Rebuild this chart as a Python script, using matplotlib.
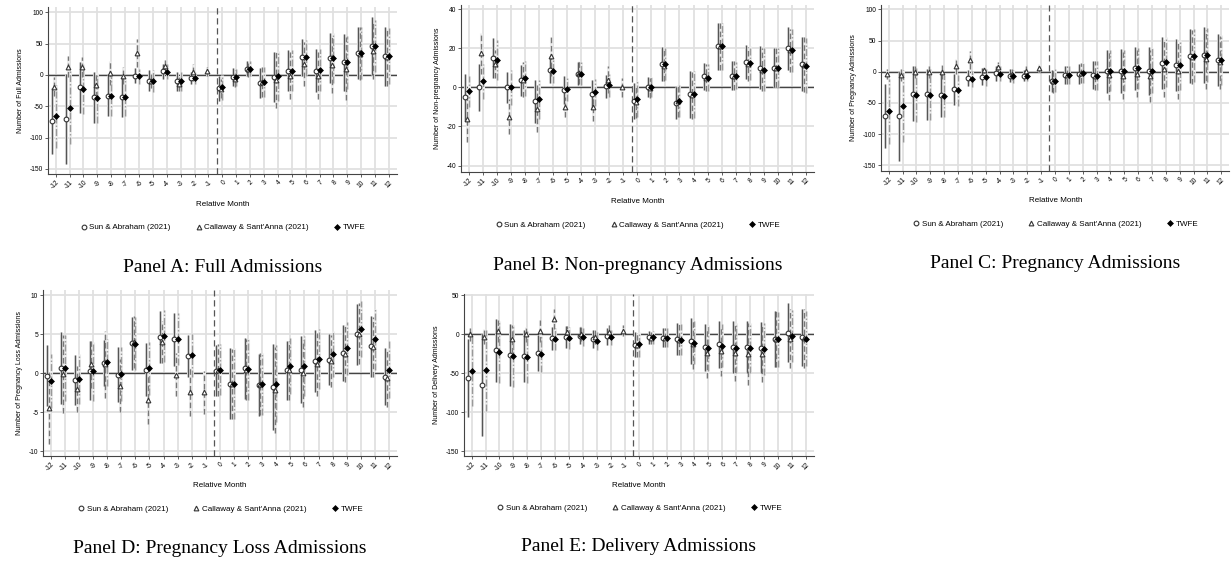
import matplotlib
matplotlib.use('Agg')
import matplotlib.pyplot as plt
from matplotlib.lines import Line2D
import numpy as np

nan = np.nan
plt.rcParams['font.family'] = ['Liberation Sans', 'DejaVu Sans']
plt.rcParams['axes.unicode_minus'] = False

months = list(range(-12, 13))
month_labels = [str(m) for m in months]
series_names = ['Sun & Abraham (2021)', "Callaway & Sant'Anna (2021)", 'TWFE']

# Panel A: full admissions (estimate, CI half-width)
sa_a = [-74, -71, -20, -36, -33, -35, -1, -9, 6, -10, -5, nan, -21, -3, 10, -13, -3, 7, 28, 7, 27, 20, 35, 46, 30]
sa_a_ci = [53, 72, 40, 40, 33, 32, 12, 17, 12, 15, 10, nan, 20, 14, 12, 24, 40, 33, 30, 34, 40, 45, 42, 46, 47]
cs_a = [-19, 13, 12, -16, 3, -1, 35, -9, 14, -14, 4, 6, -22, -6, 9, -12, -8, -1, 18, -1, 16, 10, 34, 39, 28]
cs_a_ci = [15, 17, 16, 20, 19, 13, 22, 12, 10, 12, 14, 7, 15, 14, 12, 24, 45, 37, 35, 38, 45, 50, 42, 46, 45]
tw_a = [-66, -52, -22, -37, -33, -35, -2, -10, 5, -10, -5, nan, -20, -4, 10, -12, -2, 7, 28, 8, 27, 20, 35, 46, 30]
tw_a_ci = [50, 58, 40, 40, 33, 30, 12, 18, 12, 15, 10, nan, 20, 14, 12, 24, 40, 33, 28, 33, 40, 43, 42, 42, 45]

# Panel B: non-pregnancy admissions
sa_b = [-5, 0, 15, 0, 3.6, -7, 9, -1.4, 7, -3.5, 0.5, nan, -7, 0.3, 12, -8, -3.6, 5.6, 21, 6, 13, 10, 10, 20, 12]
sa_b_ci = [12, 12, 10, 8, 8, 11, 7, 7, 6, 7.5, 6, nan, 9, 5, 8.5, 8, 12, 7, 12, 7.5, 8.5, 11, 10, 11, 14]
cs_b = [-16, 17.5, 12, -15, 4, -11, 16, -10, 7.5, -10, 4, 0, -7.5, -0.3, 11, -7, -4, 5, 21, 6, 12, 9, 10, 19, 11.5]
cs_b_ci = [12, 10.5, 7, 9, 9, 12, 10, 5, 6, 7, 7, 5, 8, 5, 8, 8, 12, 7, 12, 7.5, 8.5, 11, 10, 11, 14]
tw_b = [-2, 3, 14, 0, 4.6, -6, 8.4, -1, 7, -2.5, 1, nan, -6, 0.2, 12, -7, -3.6, 5, 21, 6, 12.5, 9, 10, 19, 11]
tw_b_ci = [8, 9, 10, 9, 9, 10, 6, 6, 6, 7, 6, nan, 9, 5, 8, 8, 12, 7, 12, 7, 8.5, 11, 10, 11, 14]

# Panel C: pregnancy admissions
sa_c = [-70.5, -71.5, -35, -36, -38, -28, -10, -8, -2, -6, -6, nan, -15, -5.5, -3, -5, 0.5, 1, 5.5, 1, 14, 11, 25, 27, 19]
sa_c_ci = [51, 71, 44, 41, 34, 25, 13, 14, 12, 11, 9, nan, 18, 14, 16, 23, 35, 35, 35, 38, 42, 42, 43, 45, 42]
cs_c = [-4, -5, 0, 0, 0, 9, 19, 3, 7, -4, 1, 6, -15.5, -5, -2, -6, -5, -6, -3, -7, 4, 1.5, 24, 20, 15]
cs_c_ci = [8, 10, 10, 10, 11, 12, 15, 5, 8, 9, 9, 7, 18, 14, 16, 23, 40, 38, 38, 42, 45, 45, 43, 47, 42]
tw_c = [-63, -55, -37, -37, -38.5, -29.5, -11, -9, -3, -7.5, -6, nan, -14, -5, -2.5, -6, 1.5, 2, 5.5, 2, 15, 11, 26, 27, 19]
tw_c_ci = [52, 58, 43, 41, 34, 25, 13, 14, 12, 11, 9, nan, 18, 14, 16, 23, 33, 33, 33, 36, 40, 40, 42, 43, 40]

# Panel D: pregnancy loss admissions
sa_d = [-0.3, 0.65, -0.85, 0.35, 1.35, -0.15, 3.9, 0.5, 4.65, 4.4, 2.25, nan, 0.35, -1.3, 0.65, -1.5, -1.75, 0.4, 0.45, 1.55, 1.75, 2.6, 5, 3.5, -0.4]
sa_d_ci = [3.9, 4.6, 3.2, 3.8, 3, 3.5, 3.4, 3.4, 3.3, 3.4, 2.7, nan, 3.3, 4.5, 3.9, 4, 5.5, 3.8, 4.3, 4, 3.3, 3.6, 3.9, 3.9, 3.7]
cs_d = [-4.5, -0.1, -2, 1.15, 1.2, -1.6, 4.05, -3.35, 4, -0.15, -2.35, -2.45, 0.45, -1.35, 0.5, -1.4, -2.1, 0.4, 0, 1.15, 1.6, 2.55, 5.1, 3.4, -0.55]
cs_d_ci = [4.5, 5, 3, 3, 4.3, 3.4, 3.3, 3.1, 2.7, 2.8, 3.1, 2.7, 3.3, 4.5, 3.9, 4, 5.5, 3.8, 4.3, 4, 3.3, 3.6, 3.9, 3.9, 3.7]
tw_d = [-1, 0.7, -0.75, 0.25, 1.4, -0.1, 3.8, 0.65, 4.8, 4.4, 2.3, nan, 0.5, -1.3, 0.55, -1.4, -1.3, 0.95, 0.95, 1.85, 2.5, 3.25, 5.65, 4.4, 0.5]
tw_d_ci = [3.5, 4.2, 3.2, 3.8, 3, 3.5, 3.4, 3.4, 3.3, 3.3, 2.7, nan, 3.3, 4.5, 3.9, 4, 5, 3.6, 3.8, 3.8, 3, 3.4, 3.6, 3.9, 3.7]

# Panel E: delivery admissions
sa_e = [-56.5, -65, -20.5, -26.5, -28, -24, -5, -3, -2, -6, -2.5, nan, -13.5, -4, -4.5, -6, -8.5, -16.5, -13, -16, -16, -17, -5.5, 2, -4]
sa_e_ci = [50, 65, 40, 40, 33, 23, 15, 14, 11, 12, 11, nan, 16, 8, 12, 20, 30, 30, 30, 33, 33, 33, 36, 38, 37]
cs_e = [0, -3, 4, -6.5, 0, 4, 19.5, 3.5, 1, -4, 3.5, 4.5, -13.5, -5, -4.5, -7, -13, -23.5, -21, -23.5, -25, -25, -5.5, -5.5, -5]
cs_e_ci = [8, 10, 14, 18, 10, 14, 13, 7, 10, 9, 8, 7, 15, 8, 12, 20, 32, 32, 32, 36, 40, 36, 36, 38, 38]
tw_e = [-47.5, -46, -22.5, -28, -29, -25, -6.5, -5, -3.5, -8.5, -4, nan, -13, -4, -4.5, -7, -10.5, -17.5, -14.5, -17, -17.5, -19, -6.5, -2, -5.5]
tw_e_ci = [45, 52, 40, 40, 33, 23, 14, 14, 11, 12, 10, nan, 16, 8, 12, 20, 28, 30, 28, 32, 32, 33, 35, 33, 35]

offsets = [-0.25, -0.12, 0.0]
ci_styles = [dict(color='#555555', ls='-'),
             dict(color='#777777', ls=(0, (4, 2))),
             dict(color='#999999', ls=(0, (5, 1.5, 1, 1.5)))]
mk_styles = [dict(marker='o', ms=3.4, mfc='white', mec='#333333', mew=0.8),
             dict(marker='^', ms=3.4, mfc='white', mec='#333333', mew=0.8),
             dict(marker='D', ms=3.0, mfc='black', mec='black', mew=0.5)]


def draw_panel(rect, series, ylabel, yticks, ylim, title):
    ax = fig.add_axes(rect)
    x = np.array(months, dtype=float)
    for m in months:
        ax.axvline(m, color='#e0e0e0', lw=1.3, zorder=0)
    for t in yticks:
        ax.axhline(t, color='#e0e0e0', lw=1.3, zorder=0)
    ax.axhline(0, color='#444444', lw=1.0, zorder=1)
    ax.axvline(-0.4, color='#555555', lw=0.9, ls=(0, (5, 3)), zorder=1)
    # light halo behind each interval, then the interval itself
    for k, (est, ci) in enumerate(series):
        est = np.array(est, dtype=float)
        ci = np.array(ci, dtype=float)
        xs = x + offsets[k]
        ax.vlines(xs, est - ci, est + ci, lw=2.2, color='#ececec', zorder=1.5)
        ax.vlines(xs, est - ci, est + ci, lw=1.0, zorder=2, **ci_styles[k])
    for k, (est, ci) in enumerate(series):
        ax.plot(x + offsets[k], est, ls='none', zorder=3, **mk_styles[k])
    ax.set_xlim(-12.55, 12.58)
    ax.set_ylim(*ylim)
    ax.set_xticks(months)
    ax.set_xticklabels(month_labels, rotation=45, ha='right', rotation_mode='anchor', fontsize=4.8)
    ax.set_yticks(yticks)
    ax.set_yticklabels([str(t) for t in yticks], fontsize=4.8)
    ax.tick_params(length=2, width=0.6, color='#444444', pad=1.5)
    for s in ['top', 'right']:
        ax.spines[s].set_visible(False)
    for s in ['left', 'bottom']:
        ax.spines[s].set_color('#444444')
        ax.spines[s].set_linewidth(0.8)
    ax.set_ylabel(ylabel, fontsize=5)
    ax.text(0.5, -0.18, 'Relative Month', transform=ax.transAxes,
            ha='center', va='center', fontsize=5.8)
    handles = [Line2D([], [], ls='none', **mk_styles[k]) for k in range(3)]
    ax.legend(handles, series_names, loc='center', bbox_to_anchor=(0.5, -0.32),
              ncol=3, frameon=False, fontsize=5.8, handletextpad=0.2,
              columnspacing=3.0, handlelength=1.0)
    ax.text(0.5, -0.56, title, transform=ax.transAxes, ha='center', va='center',
            fontsize=14, family='Liberation Serif')
    return ax


fig = plt.figure(figsize=(12.31, 5.69), dpi=100)

draw_panel([0.039, 0.694, 0.2835, 0.2935],
           [(sa_a, sa_a_ci), (cs_a, cs_a_ci), (tw_a, tw_a_ci)],
           'Number of Full Admissions', [-150, -100, -50, 0, 50, 100], (-158.5, 108.5),
           'Panel A: Full Admissions')
draw_panel([0.3745, 0.698, 0.2868, 0.2935],
           [(sa_b, sa_b_ci), (cs_b, cs_b_ci), (tw_b, tw_b_ci)],
           'Number of Non-pregnancy Admissions', [-40, -20, 0, 20, 40], (-43.2, 42.2),
           'Panel B: Non-pregnancy Admissions')
draw_panel([0.7157, 0.6995, 0.2830, 0.2917],
           [(sa_c, sa_c_ci), (cs_c, cs_c_ci), (tw_c, tw_c_ci)],
           'Number of Pregnancy Admissions', [-150, -100, -50, 0, 50, 100], (-159, 107),
           'Panel C: Pregnancy Admissions')
draw_panel([0.035, 0.1986, 0.2876, 0.2917],
           [(sa_d, sa_d_ci), (cs_d, cs_d_ci), (tw_d, tw_d_ci)],
           'Number of Pregnancy Loss Admissions', [-10, -5, 0, 5, 10], (-10.6, 10.7),
           'Panel D: Pregnancy Loss Admissions')
draw_panel([0.3769, 0.1986, 0.2843, 0.2847],
           [(sa_e, sa_e_ci), (cs_e, cs_e_ci), (tw_e, tw_e_ci)],
           'Number of Delivery Admissions', [-150, -100, -50, 0, 50], (-156, 51.7),
           'Panel E: Delivery Admissions')

fig.savefig('out.png', dpi=100)
